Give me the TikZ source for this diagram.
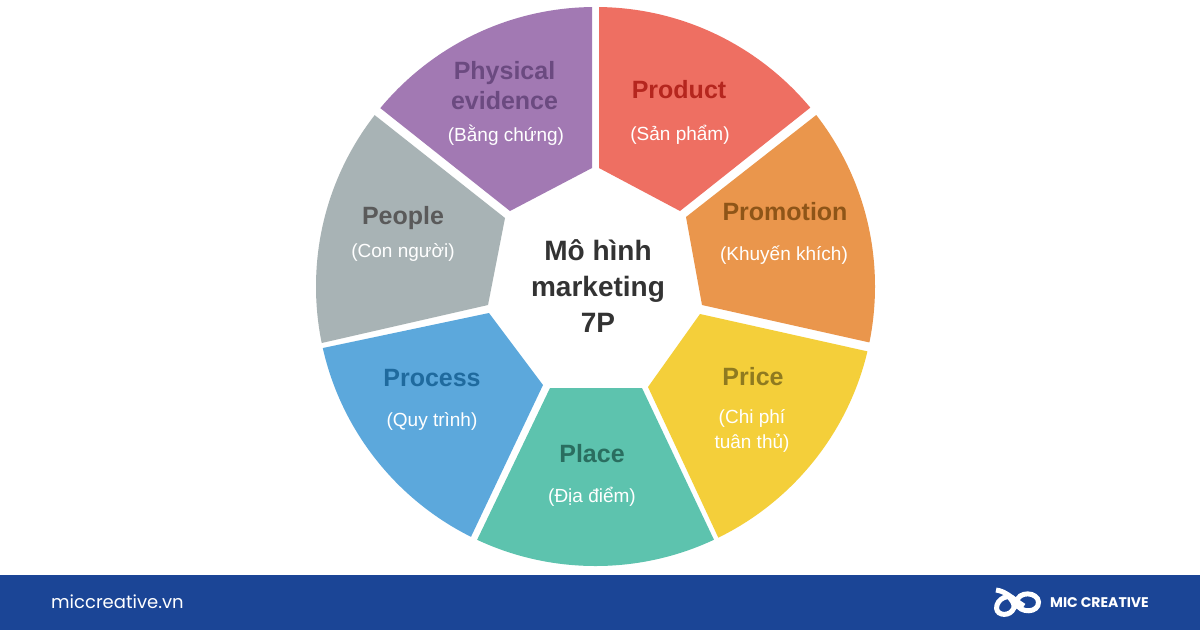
\documentclass[tikz,border=0pt]{standalone}
\usepackage{fontspec}
\setmainfont{Liberation Sans}
\newfontfamily\brandfont{Poppins}
\tikzset{
  ptitle/.style={font=\fontsize{25}{30}\selectfont\bfseries,align=center,inner sep=0pt},
  psub/.style={font=\fontsize{19}{25}\selectfont,text=white,align=center,inner sep=0pt},
}
\definecolor{cRed}{HTML}{EE6F62}
\definecolor{cOrange}{HTML}{EA964C}
\definecolor{cYellow}{HTML}{F4CF3A}
\definecolor{cGreen}{HTML}{5DC3AE}
\definecolor{cBlue}{HTML}{5CA8DC}
\definecolor{cGray}{HTML}{A8B3B5}
\definecolor{cPurple}{HTML}{A279B3}
\definecolor{cBar}{HTML}{1B4596}
\definecolor{tRed}{HTML}{B5261E}
\definecolor{tOrange}{HTML}{8E5518}
\definecolor{tYellow}{HTML}{8F7A20}
\definecolor{tGreen}{HTML}{2A6E60}
\definecolor{tBlue}{HTML}{1F6A9E}
\definecolor{tGray}{HTML}{5A5A5A}
\definecolor{tPurple}{HTML}{6B4A80}
\begin{document}
\begin{tikzpicture}[x=1pt,y=-1pt]
\useasboundingbox (0,0) rectangle (1200,630);
\fill[white] (0,0) rectangle (1200,630);
\fill[cBar] (0,575) rectangle (1200,630);
% wheel
\begin{scope}
\clip (595.5,286.5) circle (279.5);
\fill[cRed] (599,0) -- (599,168) -- (680,211) -- (830,92) -- (830,0) -- cycle;
\fill[cOrange] (838,98) -- (686,217) -- (702,305) -- (892,347.5) -- (950,200) -- cycle;
\fill[cYellow] (886,355.5) -- (700,314) -- (648,387) -- (725,552) -- (900,560) -- cycle;
\fill[cGreen] (725,563) -- (642,388) -- (550,388) -- (466,563) -- (466,600) -- (725,600) -- cycle;
\fill[cBlue] (460,560) -- (543,385) -- (489,313) -- (304,352) -- (290,560) -- cycle;
\fill[cGray] (302,347.5) -- (488,305) -- (505,218) -- (353,98) -- (280,100) -- cycle;
\fill[cPurple] (360,92) -- (510,211) -- (592,168) -- (592,0) -- (360,0) -- cycle;
\end{scope}
% labels
\node[ptitle,text=tRed] (product) at (679,90) {Product};
\node[psub] (productsub) at (680,135) {(Sản phẩm)};
\node[ptitle,text=tOrange] (promotion) at (785,212) {Promotion};
\node[psub] (promotionsub) at (784,255) {(Khuyến khích)};
\node[ptitle,text=tYellow] (price) at (753,377) {Price};
\node[psub] (pricesub) at (752,431) {(Chi phí\\tuân thủ)};
\node[ptitle,text=tGreen] (place) at (592,454) {Place};
\node[psub] (placesub) at (592,497) {(Địa điểm)};
\node[ptitle,text=tBlue] (process) at (432,378) {Process};
\node[psub] (processsub) at (432,421) {(Quy trình)};
\node[ptitle,text=tGray] (people) at (403,218) {People};
\node[psub] (peoplesub) at (403,252.5) {(Con người)};
\node[ptitle,text=tPurple] (physical) at (504.5,86) {Physical\\evidence};
\node[psub] (physicalsub) at (506,135) {(Bằng chứng)};
\node[font=\fontsize{28}{36}\selectfont\bfseries,text=black!80,align=center,inner sep=0pt] (center) at (598,286) {Mô hình\\marketing\\7P};
% footer
\node[font=\brandfont\fontsize{18}{20}\selectfont,text=white,anchor=west,inner sep=0pt] (site) at (51,602) {miccreative.vn};
\node[font=\brandfont\fontsize{14}{16}\selectfont\bfseries,text=white,anchor=west,inner sep=0pt] (brand) at (1050,602.5) {MIC CREATIVE};
% logo
\draw[white,line width=5pt] (996,590) .. controls (1006,591) and (1014,600) .. (1024,606);
\draw[white,line width=5pt] (1016,603) .. controls (1018,590) and (1038,592) .. (1038.5,602) .. controls (1039,613) and (1020,614) .. (1016,603) .. controls (1013,593) and (1000,596) .. (997,605) .. controls (994,615) and (1007,617) .. (1012,611) .. controls (1016,607) and (1014,603) .. (1010,598);
\end{tikzpicture}
\end{document}
